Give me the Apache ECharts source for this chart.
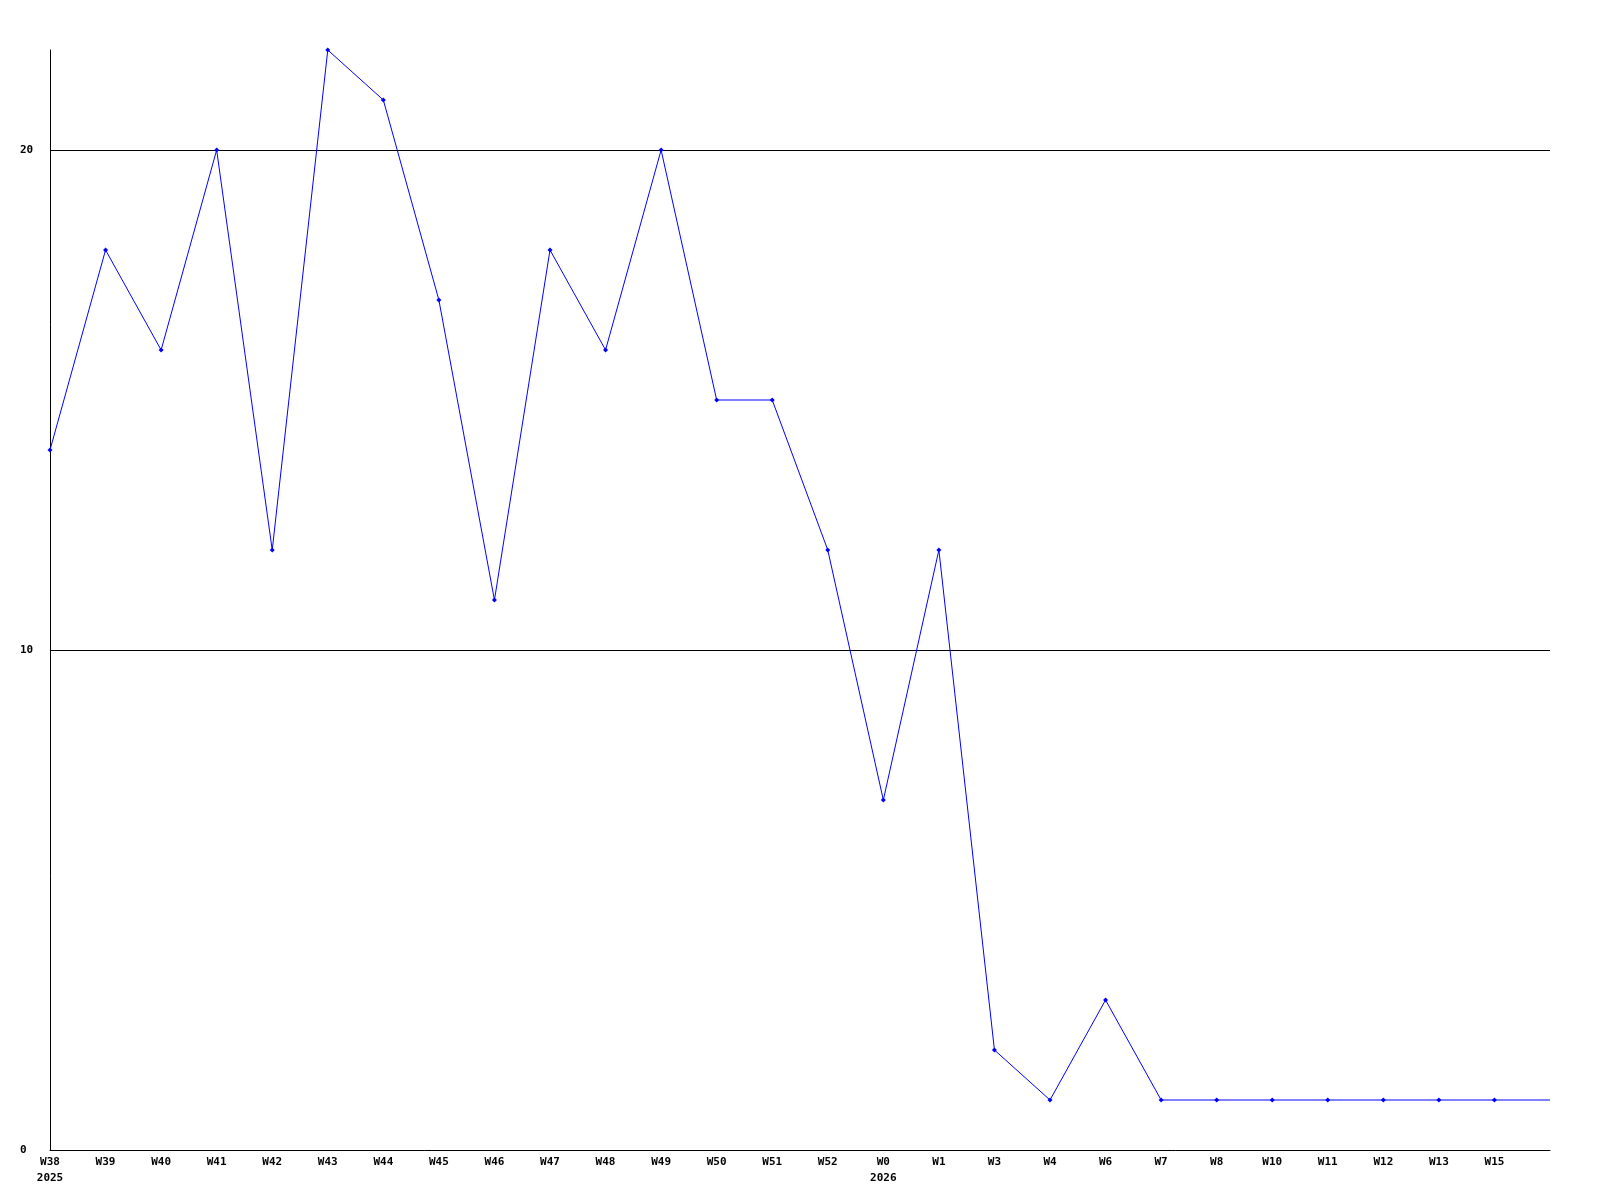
<!DOCTYPE html>
<html>
<head>
<meta charset="utf-8">
<script src="https://cdn.jsdelivr.net/npm/echarts@6/dist/echarts.min.js"></script>
<style>html,body{margin:0;padding:0;background:#fff}#c{width:1600px;height:1200px}</style>
</head>
<body>
<div id="c"></div>
<script>
const weeks = ['W38','W39','W40','W41','W42','W43','W44','W45','W46','W47','W48','W49','W50','W51','W52','W0','W1','W3','W4','W6','W7','W8','W10','W11','W12','W13','W15',''];
const yearLabels = ['2025','','','','','','','','','','','','','','','2026','','','','','','','','','','','',''];
const values = [14,18,16,20,12,22,21,17,11,18,16,20,15,15,12,7,12,2,1,3,1,1,1,1,1,1,1,1];
const yTicks = [0,10,20];

const chart = echarts.init(document.getElementById('c'), null, {renderer:'canvas'});
const font = {fontFamily:'DejaVu Sans Mono', fontWeight:'bold', fontSize:11, color:'#000'};
chart.setOption({
  animation:false,
  backgroundColor:'#fff',
  grid:{left:50,right:50,top:50,bottom:50,containLabel:false},
  xAxis:{
    type:'category',
    data:weeks,
    boundaryGap:false,
    axisLine:{show:true,lineStyle:{color:'#000',width:1}},
    axisTick:{show:false},
    splitLine:{show:false},
    axisLabel:Object.assign({}, font, {
      interval:0, margin:4, lineHeight:16,
      formatter:(v,i)=> yearLabels[i] ? v+'\n'+yearLabels[i] : v
    })
  },
  yAxis:{
    type:'value',
    min:0,max:22,interval:10,
    axisLine:{show:true,lineStyle:{color:'#000',width:1}},
    axisTick:{show:false},
    splitLine:{show:true,showMinLine:false,showMaxLine:false,lineStyle:{color:'#000',width:1}},
    axisLabel:Object.assign({}, font, {
      align:'left', margin:30,
      formatter:v=> yTicks.indexOf(v)>=0 ? String(v) : ''
    })
  },
  series:[{
    type:'line',
    data:values.map((v,i)=> i===values.length-1 ? {value:v,symbol:'none'} : v),
    symbol:'diamond',
    symbolSize:5,
    showAllSymbol:true,
    lineStyle:{color:'#0000ff',width:1},
    itemStyle:{color:'#0000ff'},
    clip:false
  }]
});
</script>
</body>
</html>
